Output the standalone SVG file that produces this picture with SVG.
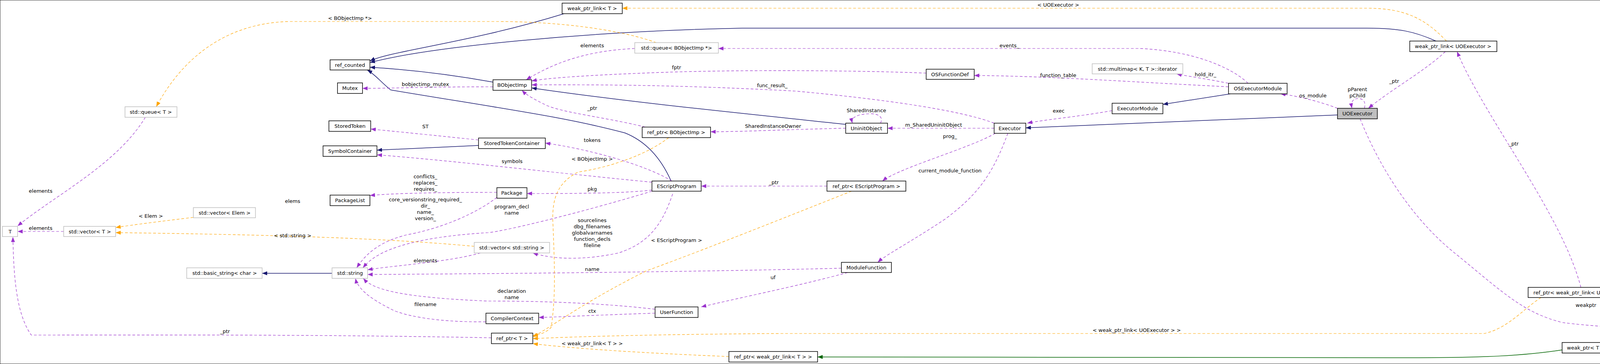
<svg xmlns="http://www.w3.org/2000/svg" width="4989" height="931" viewBox="0 0 4989 931">
<defs>
<marker id="an" markerUnits="userSpaceOnUse" markerWidth="14" markerHeight="12" refX="13" refY="5" orient="auto"><path d="M0,0 L13,5 L0,10 z" fill="#191970"/></marker>
<marker id="ap" markerUnits="userSpaceOnUse" markerWidth="14" markerHeight="12" refX="13" refY="5" orient="auto"><path d="M0,0 L13,5 L0,10 z" fill="#9a32cd"/></marker>
<marker id="ao" markerUnits="userSpaceOnUse" markerWidth="14" markerHeight="12" refX="13" refY="5" orient="auto"><path d="M0,0 L13,5 L0,10 z" fill="#ffa500"/></marker>
<marker id="ag" markerUnits="userSpaceOnUse" markerWidth="14" markerHeight="12" refX="13" refY="5" orient="auto"><path d="M0,0 L13,5 L0,10 z" fill="#006400"/></marker>
</defs>
<style>
rect{fill:#fff;stroke:#000;stroke-width:1.5}
rect.g{stroke:#bfbfbf}
rect.sel{fill:#bfbfbf}
text{font-family:"DejaVu Sans",sans-serif;font-size:13px;fill:#000;text-anchor:middle}
.n{stroke:#191970;stroke-width:1.5;fill:none;marker-end:url(#an)}
.p{stroke:#9a32cd;stroke-width:1.2;fill:none;stroke-dasharray:7,5;marker-end:url(#ap)}
.o{stroke:#ffa500;stroke-width:1.2;fill:none;stroke-dasharray:7,5;marker-end:url(#ao)}
.gr{stroke:#006400;stroke-width:1.5;fill:none;marker-end:url(#ag)}
</style>
<rect width="4989" height="931" fill="#fff" stroke="none"/>
<g id="connectors">
<path class="n" d="M1444,35 C1200,110 1000,130 947,156"/>
<path class="n" d="M3676,105 C3620,80 3580,72 3500,72 L1900,72 C1500,80 1100,120 947,160"/>
<path class="n" d="M1262,210 C1150,190 1050,178 947,172"/>
<path class="n" d="M1718,463 C1690,400 1650,360 1600,340 C1450,300 1300,280 1000,230 C975,210 960,190 940,179"/>
<path class="n" d="M2165,318 C1900,290 1600,260 1361,225"/>
<path class="n" d="M1225,372 L965,384"/>
<path class="n" d="M850,699 L671,699"/>
<path class="n" d="M3150,240 L2977,267"/>
<path class="n" d="M3424,294 L2626,327"/>
<path class="n" d="M4760,815 C4700,800 4620,800 4563,792"/>
<path class="n" d="M4383,883 L4120,888"/>
<path class="gr" d="M4371,768 L4208,757"/>
<path class="gr" d="M3999,895 C3900,910 3800,915 3600,915 L2093,913"/>
<path class="p" d="M372,300 C300,420 140,500 45,578"/>
<path class="p" d="M163,592 L45,592"/>
<path class="p" d="M1258,864 C800,855 400,857 80,857 C40,800 35,700 33,606"/>
<path class="p" d="M1262,222 C1100,222 1000,226 928,226"/>
<path class="p" d="M1225,358 C1100,345 1000,335 949,330"/>
<path class="p" d="M1669,466 C1400,440 1150,410 965,396"/>
<path class="p" d="M1720,463 C1650,420 1500,380 1396,366"/>
<path class="p" d="M1669,486 C1600,495 1450,495 1349,495"/>
<path class="p" d="M1272,492 C1100,492 1000,495 947,500"/>
<path class="p" d="M1272,505 C1200,560 1100,590 1044,600 C960,620 930,660 913,685"/>
<path class="p" d="M1669,489 C1500,540 1300,590 1250,595 C1000,610 950,660 929,685"/>
<path class="p" d="M1230,647 C1150,670 1000,680 941,690"/>
<path class="p" d="M2154,686 C1800,695 1300,700 941,702"/>
<path class="p" d="M1677,791 C1500,770 1300,770 1250,770 C1000,760 950,735 930,712"/>
<path class="p" d="M1244,823 C1100,825 1020,802 1000,790 C940,760 915,735 910,712"/>
<path class="p" d="M1722,496 C1700,560 1670,620 1583,647 C1500,665 1420,665 1364,647"/>
<path class="p" d="M2117,476 L1795,476"/>
<path class="p" d="M2548,341 C2480,380 2300,430 2259,463"/>
<path class="p" d="M2170,697 C2050,730 1900,760 1795,785"/>
<path class="p" d="M1677,801 C1550,805 1450,810 1379,812"/>
<path class="p" d="M2580,341 C2540,450 2500,500 2420,560 C2330,620 2270,650 2247,671"/>
<path class="p" d="M1652,325 C1550,300 1450,290 1400,270 C1370,255 1350,245 1336,231"/>
<path class="p" d="M2165,328 C2050,330 1900,337 1819,337"/>
<path class="p" d="M2254,315 C2262,300 2250,290 2225,291 C2195,292 2178,300 2182,315"/>
<path class="p" d="M2545,328 L2272,328"/>
<path class="p" d="M2545,315 C2480,290 2330,260 2037,233 C1700,215 1500,217 1361,217"/>
<path class="p" d="M2371,187 C2200,180 1900,178 1700,185 C1500,192 1400,200 1361,207"/>
<path class="p" d="M1625,124 C1500,130 1420,160 1347,204"/>
<path class="p" d="M3195,213 C3150,170 3050,130 2918,124 L1839,124"/>
<path class="p" d="M3145,222 C2900,210 2700,195 2494,193"/>
<path class="p" d="M3145,213 C3080,200 3040,195 3012,189"/>
<path class="p" d="M2847,283 C2750,300 2680,305 2630,315"/>
<path class="p" d="M3424,277 C3380,260 3320,245 3278,240"/>
<path class="p" d="M3493,277 C3497,260 3490,252 3477,252 C3462,252 3458,262 3461,277"/>
<path class="p" d="M3700,132 C3650,180 3560,230 3503,277"/>
<path class="p" d="M4047,735 C4000,550 3800,300 3730,132"/>
<path class="p" d="M3482,304 C3520,400 3600,550 3730,652 C3850,750 3900,800 4000,825 C4200,850 4500,845 4741,837"/>
<path class="o" d="M1680,109 C1600,80 1450,55 1270,55 L740,55 C550,60 450,180 400,273"/>
<path class="o" d="M3703,105 C3650,50 3600,21 3500,21 L1593,21"/>
<path class="o" d="M495,556 C420,565 340,575 296,582"/>
<path class="o" d="M1214,630 C1000,610 700,600 296,595"/>
<path class="o" d="M1712,352 C1650,400 1550,430 1480,440 C1420,470 1415,520 1415,560 C1420,680 1423,760 1411,837 C1400,850 1380,857 1364,858"/>
<path class="o" d="M2180,489 C2000,560 1800,640 1654,693 C1500,770 1420,830 1364,862"/>
<path class="o" d="M3945,761 C3900,790 3860,840 3800,853 L2000,853 C1700,855 1500,860 1364,866"/>
<path class="o" d="M1866,912 C1700,905 1500,895 1364,879"/>
<path class="o" d="M4420,791 C4350,830 4220,870 4120,880"/>
<path class="o" d="M4805,841 C4720,870 4620,880 4551,882"/>
</g>
<g id="labels">
<text x="896" y="51">&lt; BObjectImp *&gt;</text>
<text x="1089" y="220">bobjectimp_mutex</text>
<text x="1089" y="328">ST</text>
<text x="1089" y="456">conflicts_</text>
<text x="1089" y="472">replaces_</text>
<text x="1089" y="488">requires_</text>
<text x="749" y="519">elems</text>
<text x="386" y="557">&lt; Elem &gt;</text>
<text x="1089" y="515">core_versionstring_required_</text>
<text x="1089" y="531">dir_</text>
<text x="1089" y="547">name_</text>
<text x="1089" y="563">version_</text>
<text x="104" y="493">elements</text>
<text x="104" y="588">elements</text>
<text x="749" y="607">&lt; std::string &gt;</text>
<text x="1089" y="671">elements</text>
<text x="1089" y="783">filename</text>
<text x="576" y="852">_ptr</text>
<text x="1516" y="121">elements</text>
<text x="1732" y="177">fptr</text>
<text x="1977" y="223">func_result_</text>
<text x="1516" y="281">_ptr</text>
<text x="2218" y="287">SharedInstance</text>
<text x="1979" y="327">SharedInstanceOwner</text>
<text x="2390" y="324">m_SharedUninitObject</text>
<text x="2432" y="353">prog_</text>
<text x="1516" y="363">tokens</text>
<text x="1516" y="411">&lt; BObjectImp &gt;</text>
<text x="1311" y="417">symbols</text>
<text x="2432" y="441">current_module_function</text>
<text x="1981" y="471">_ptr</text>
<text x="1516" y="488">pkg</text>
<text x="1310" y="533">program_decl</text>
<text x="1310" y="549">name</text>
<text x="1516" y="568">sourcelines</text>
<text x="1516" y="584">dbg_filenames</text>
<text x="1516" y="600">globalvarnames</text>
<text x="1516" y="616">function_decls</text>
<text x="1516" y="632">fileline</text>
<text x="1732" y="619">&lt; EScriptProgram &gt;</text>
<text x="1516" y="693">name</text>
<text x="1979" y="714">uf</text>
<text x="1310" y="749">declaration</text>
<text x="1310" y="765">name</text>
<text x="1516" y="800">ctx</text>
<text x="1516" y="883">&lt; weak_ptr_link&lt; T &gt; &gt;</text>
<text x="2709" y="17">&lt; UOExecutor &gt;</text>
<text x="2584" y="121">events_</text>
<text x="2709" y="197">function_table</text>
<text x="3086" y="195">hold_itr_</text>
<text x="3569" y="212">_ptr</text>
<text x="3475" y="233">pParent</text>
<text x="3475" y="249">pChild</text>
<text x="3361" y="249">os_module</text>
<text x="2710" y="288">exec</text>
<text x="2910" y="849">&lt; weak_ptr_link&lt; UOExecutor &gt; &gt;</text>
<text x="3875" y="372">_ptr</text>
<text x="4060" y="785">weakptr</text>
<text x="4290" y="815">&lt; UOExecutor &gt;</text>
<text x="4645" y="859">&lt; UOExecutor &gt;</text>
</g>
<g id="n_ref_counted"><rect x="845" y="153" width="102" height="26"/><text x="896" y="171">ref_counted</text></g>
<g id="n_mutex"><rect x="864" y="212" width="64" height="27"/><text x="896" y="230">Mutex</text></g>
<g id="n_queue_t"><rect class="g" x="320" y="273" width="133" height="27"/><text x="386" y="291">std::queue&lt; T &gt;</text></g>
<g id="n_storedtoken"><rect x="842" y="309" width="107" height="27"/><text x="896" y="327">StoredToken</text></g>
<g id="n_symbolcontainer"><rect x="827" y="373" width="138" height="27"/><text x="896" y="391">SymbolContainer</text></g>
<g id="n_packagelist"><rect x="845" y="499" width="102" height="27"/><text x="896" y="517">PackageList</text></g>
<g id="n_vector_elem"><rect class="g" x="495" y="531" width="159" height="26"/><text x="575" y="549">std::vector&lt; Elem &gt;</text></g>
<g id="n_t"><rect class="g" x="6" y="579" width="39" height="26"/><text x="26" y="597">T</text></g>
<g id="n_vector_t"><rect class="g" x="163" y="579" width="133" height="26"/><text x="230" y="597">std::vector&lt; T &gt;</text></g>
<g id="n_vector_string"><rect class="g" x="1214" y="620" width="193" height="27"/><text x="1310" y="638">std::vector&lt; std::string &gt;</text></g>
<g id="n_basic_string"><rect class="g" x="478" y="685" width="193" height="27"/><text x="575" y="703">std::basic_string&lt; char &gt;</text></g>
<g id="n_string"><rect class="g" x="850" y="685" width="91" height="27"/><text x="896" y="703">std::string</text></g>
<g id="n_compilercontext"><rect x="1244" y="801" width="135" height="27"/><text x="1311" y="819">CompilerContext</text></g>
<g id="n_weak_ptr_link_t"><rect x="1439" y="8" width="154" height="27"/><text x="1516" y="26">weak_ptr_link&lt; T &gt;</text></g>
<g id="n_queue_bobj"><rect class="g" x="1625" y="109" width="214" height="27"/><text x="1732" y="127">std::queue&lt; BObjectImp *&gt;</text></g>
<g id="n_osfunctiondef"><rect x="2371" y="177" width="123" height="26"/><text x="2432" y="195">OSFunctionDef</text></g>
<g id="n_bobjectimp"><rect x="1262" y="204" width="99" height="27"/><text x="1311" y="222">BObjectImp</text></g>
<g id="n_uninitobject"><rect x="2165" y="315" width="107" height="26"/><text x="2218" y="333">UninitObject</text></g>
<g id="n_ref_ptr_bobj"><rect x="1644" y="325" width="175" height="27"/><text x="1731" y="343">ref_ptr&lt; BObjectImp &gt;</text></g>
<g id="n_storedtokencontainer"><rect x="1225" y="353" width="171" height="27"/><text x="1310" y="371">StoredTokenContainer</text></g>
<g id="n_escriptprogram"><rect x="1669" y="463" width="126" height="26"/><text x="1732" y="481">EScriptProgram</text></g>
<g id="n_ref_ptr_esp"><rect x="2117" y="463" width="202" height="26"/><text x="2218" y="481">ref_ptr&lt; EScriptProgram &gt;</text></g>
<g id="n_package"><rect x="1272" y="480" width="77" height="27"/><text x="1310" y="498">Package</text></g>
<g id="n_modulefunction"><rect x="2154" y="671" width="128" height="26"/><text x="2218" y="689">ModuleFunction</text></g>
<g id="n_userfunction"><rect x="1677" y="785" width="110" height="27"/><text x="1732" y="803">UserFunction</text></g>
<g id="n_ref_ptr_t"><rect x="1258" y="852" width="106" height="27"/><text x="1311" y="870">ref_ptr&lt; T &gt;</text></g>
<g id="n_ref_ptr_wpl_t"><rect x="1866" y="899" width="227" height="27"/><text x="1979" y="917">ref_ptr&lt; weak_ptr_link&lt; T &gt; &gt;</text></g>
<g id="n_weak_ptr_link_uo"><rect x="3609" y="105" width="223" height="27"/><text x="3720" y="123">weak_ptr_link&lt; UOExecutor &gt;</text></g>
<g id="n_multimap"><rect class="g" x="2796" y="163" width="232" height="26"/><text x="2912" y="181">std::multimap&lt; K, T &gt;::iterator</text></g>
<g id="n_osexecutormodule"><rect x="3145" y="213" width="150" height="27"/><text x="3220" y="231">OSExecutorModule</text></g>
<g id="n_executormodule"><rect x="2847" y="264" width="130" height="27"/><text x="2912" y="282">ExecutorModule</text></g>
<g id="n_uoexecutor"><rect class="sel" x="3424" y="277" width="102" height="27"/><text x="3475" y="295">UOExecutor</text></g>
<g id="n_executor"><rect x="2545" y="315" width="81" height="26"/><text x="2585" y="333">Executor</text></g>
<g id="n_ref_ptr_wpl_uo"><rect x="3912" y="735" width="296" height="26"/><text x="4060" y="753">ref_ptr&lt; weak_ptr_link&lt; UOExecutor &gt; &gt;</text></g>
<g id="n_weak_ptr_uo"><rect x="4371" y="764" width="192" height="27"/><text x="4467" y="782">weak_ptr&lt; UOExecutor &gt;</text></g>
<g id="n_weak_ptr_owner_uo"><rect x="4741" y="815" width="244" height="26"/><text x="4863" y="833">weak_ptr_owner&lt; UOExecutor &gt;</text></g>
<g id="n_weak_ptr_t"><rect x="3999" y="876" width="121" height="27"/><text x="4060" y="894">weak_ptr&lt; T &gt;</text></g>
<g id="n_weak_ptr_owner_t"><rect x="4383" y="868" width="168" height="27"/><text x="4467" y="886">weak_ptr_owner&lt; T &gt;</text></g>
</svg>
